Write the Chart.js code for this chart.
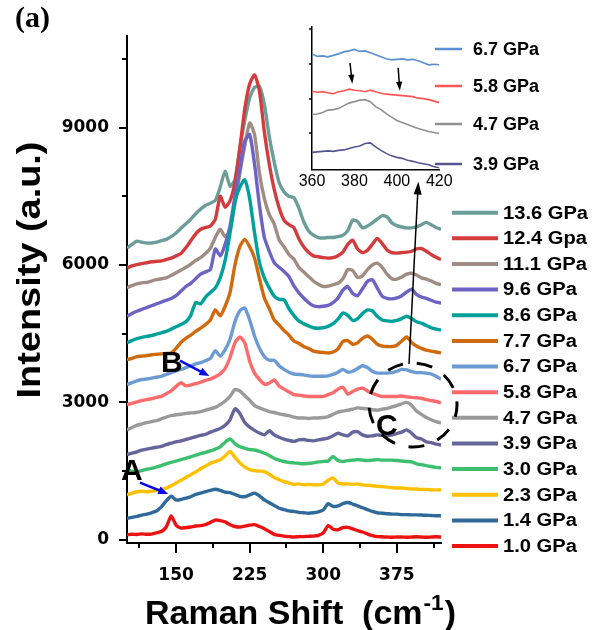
<!DOCTYPE html>
<html>
<head>
<meta charset="utf-8">
<script src="https://cdn.jsdelivr.net/npm/chart.js@4.4.1/dist/chart.umd.min.js"></script>
<style>
html,body{margin:0;padding:0;background:#fff;}
#wrap{position:relative;width:593px;height:630px;overflow:hidden;background:#fff;}
#main{position:absolute;left:0;top:0;}
#inset{position:absolute;left:280px;top:0;}
</style>
</head>
<body>
<div id="wrap">
<canvas id="main" width="593" height="630"></canvas>
<canvas id="inset" width="313" height="192"></canvas>
</div>
<script>
// ---------------- DATA ----------------
const ramanShift = [100,105,110,115,120,125,130,135,140,145,150,155,160,165,170,175,180,185,190,195,
  200,205,210,215,220,225,230,235,240,245,250,255,260,265,270,275,280,285,290,295,
  300,305,310,315,320,325,330,335,340,345,350,355,360,365,370,375,380,385,390,395,
  400,405,410,415,420];

const pressureLabels = ['1.0 GPa','1.4 GPa','2.3 GPa','3.0 GPa','3.9 GPa','4.7 GPa','5.8 GPa',
  '6.7 GPa','7.7 GPa','8.6 GPa','9.6 GPa','11.1 GPa','12.4 Gpa','13.6 GPa'];

const int_1_0 = [110,120,115,130,120, 125,150,180,280,520, 320,255,265,280,300, 310,330,380,430,420,
  390,330,290,280,300, 320,330,290,240,180, 120,95,80,70,60, 70,70,75,80,95,
  150,310,230,220,265, 270,240,200,170,130, 90,70,65,60,55, 60,60,55,60,65, 60,55,60,65,60];
const int_1_4 = [470,490,510,540,560, 590,630,720,850,950, 870,880,910,940,990, 1020,1050,1080,1105,1080,
  1040,1030,990,950,940, 980,1020,960,870,810, 750,690,660,630,620, 600,590,580,590,610,
  650,790,730,740,790, 815,780,740,700,660, 620,590,580,570,560, 560,550,550,545,545, 540,535,530,525,525];
const int_2_3 = [980,1020,1050,1060,1050, 1060,1080,1100,1130,1180, 1240,1300,1360,1420,1480, 1550,1610,1670,1710,1750,
  1830,1930,1800,1680,1590, 1530,1510,1500,1490,1430, 1360,1310,1270,1240,1210, 1220,1200,1210,1200,1200,
  1220,1300,1350,1240,1220, 1220,1210,1220,1200,1190, 1180,1170,1160,1150,1140, 1130,1130,1120,1110,1110, 1100,1100,1090,1090,1090];
const int_3_0 = [1530,1500,1490,1510,1540, 1560,1590,1620,1660,1690, 1720,1750,1780,1810,1850, 1880,1910,1940,1980,2030,
  2130,2200,2100,2030,2000, 1970,1960,1930,1890,1840, 1780,1740,1710,1690,1680, 1670,1660,1670,1680,1700,
  1710,1720,1820,1730,1710, 1730,1740,1750,1740,1730, 1740,1750,1740,1740,1740, 1730,1720,1710,1700,1660, 1640,1620,1600,1580,1570];
const int_3_9 = [1860,1890,1920,1960,1980, 2000,2020,2040,2080,2110, 2140,2160,2190,2220,2250, 2280,2300,2350,2390,2430,
  2500,2620,2860,2760,2560, 2460,2390,2330,2290,2380, 2290,2240,2200,2170,2150, 2180,2190,2170,2160,2180,
  2200,2220,2270,2330,2290, 2270,2350,2360,2290,2260, 2270,2290,2280,2270,2290, 2320,2350,2400,2330,2230, 2200,2140,2120,2090,2070];
const int_4_7 = [2400,2450,2500,2530,2560, 2580,2600,2640,2680,2710, 2730,2740,2760,2770,2780, 2800,2830,2860,2890,2950,
  3030,3130,3280,3250,3150, 3050,2930,2880,2840,2800, 2780,2750,2730,2710,2680, 2660,2660,2650,2660,2660,
  2670,2690,2740,2790,2810, 2830,2850,2880,2870,2860, 2840,2830,2850,2870,2900, 2930,2970,3000,2940,2810, 2740,2670,2620,2580,2550];
const int_5_8 = [2950,2980,3010,3040,3060, 3080,3110,3130,3190,3250, 3350,3430,3360,3380,3410, 3440,3480,3510,3560,3620,
  3740,3980,4300,4430,4300, 3900,3640,3500,3400,3420, 3490,3360,3290,3230,3170, 3160,3140,3130,3130,3130,
  3130,3170,3210,3290,3330, 3180,3240,3290,3310,3250, 3200,3160,3130,3130,3130, 3130,3140,3120,3110,3100, 3090,3060,3040,3020,2990];
const int_6_7 = [3390,3430,3470,3500,3510, 3530,3550,3570,3610,3650, 3690,3720,3760,3800,3840, 3870,3910,3960,4130,4010,
  4150,4380,4760,5000,5060, 4800,4450,4180,4000,3920, 3920,3800,3720,3660,3620, 3610,3600,3580,3570,3570,
  3570,3580,3610,3660,3720, 3660,3680,3740,3800,3760, 3680,3640,3640,3640,3650, 3680,3720,3710,3670,3650, 3650,3640,3620,3570,3510];
const int_7_7 = [3930,3960,4000,4010,4020, 4040,4050,4060,4070,4080, 4180,4310,4400,4470,4550, 4620,4700,4800,5020,4890,
  5100,5400,6000,6400,6560, 6400,6150,5700,5280,5050, 4800,4690,4570,4470,4340, 4290,4220,4180,4120,4100,
  4090,4080,4100,4170,4330, 4350,4270,4300,4400,4450, 4380,4270,4230,4220,4220, 4250,4340,4430,4310,4230, 4180,4140,4120,4100,4080];
const int_8_6 = [4300,4350,4390,4420,4440, 4460,4490,4520,4550,4600, 4650,4700,4760,4900,5180, 5150,5300,5400,5500,5720,
  6100,6700,7380,7700,7860, 7450,6700,6050,5720,5500, 5320,5250,5240,5050,4900, 4780,4720,4670,4630,4620,
  4630,4660,4720,4820,4950, 4900,4790,4830,4940,5020, 5000,4880,4800,4780,4770, 4790,4830,4880,4830,4760, 4730,4680,4630,4600,4580];
const int_9_6 = [4880,4940,4990,5030,5070, 5110,5150,5190,5230,5270, 5330,5430,5530,5600,5700, 5800,5850,5900,6350,6200,
  6450,6850,7500,8100,8700, 8850,8200,7300,6600,6300, 6050,5950,5860,5750,5550, 5400,5280,5180,5110,5090,
  5100,5120,5180,5280,5450, 5530,5380,5330,5480,5640, 5680,5500,5320,5270,5260, 5280,5330,5410,5470,5360, 5300,5270,5230,5190,5170];
const int_11_1 = [5500,5550,5590,5610,5620, 5650,5680,5700,5720,5770, 5830,5890,5950,6020,6100, 6160,6250,6370,6600,6780,
  6620,6750,7350,8000,8600, 9100,8850,8000,7450,7100, 6900,6550,6400,6230,6130, 5950,5850,5750,5650,5580,
  5530,5540,5570,5600,5700, 5900,5880,5730,5760,5900, 6000,6040,5950,5800,5700, 5690,5740,5800,5820,5780, 5720,5690,5650,5600,5570];
const int_12_4 = [5930,5980,6010,6030,6050, 6070,6080,6090,6120,6150, 6200,6250,6380,6530,6680, 6780,6820,6850,7000,7500,
  7260,7400,7800,8550,9400, 9950,10150,9800,8900,8200, 7650,7250,6980,6880,6820, 6580,6400,6280,6200,6180,
  6160,6150,6160,6200,6280, 6450,6540,6350,6270,6320, 6450,6580,6470,6330,6270, 6260,6270,6280,6300,6350, 6360,6300,6230,6170,6120];
const int_13_6 = [6370,6450,6520,6500,6480, 6480,6500,6530,6560,6620, 6700,6800,6900,7000,7120, 7220,7300,7350,7410,7700,
  8050,7720,7860,8550,9150, 9650,9880,9900,9500,8800, 8250,7800,7600,7500,7470, 7250,6950,6750,6650,6600,
  6590,6600,6600,6620,6650, 6750,6980,6950,6810,6850, 6920,7000,7080,7050,6920, 6860,6830,6810,6810,6830, 6880,6930,6880,6820,6780];

const xTickValues = [112.5,150,187.5,225,262.5,300,337.5,375,412.5];
const xLabelValues = [150,225,300,375];
const yTickValues = [0,1500,3000,4500,6000,7500,9000,10500];
const yLabelValues = [0,3000,6000,9000];

// inset data
const insetShift = [360,362.5,365,367.5,370,372.5,375,377.5,380,382.5,385,387.5,390,392.5,395,397.5,400,402.5,405,407.5,410,412.5,415,417.5,420];
const insetLabels = ['6.7 GPa','5.8 GPa','4.7 GPa','3.9 GPa'];
const inset_6_7 = [1150,1125,1130,1120,1135,1150,1170,1180,1195,1175,1180,1160,1140,1120,1100,1090,1095,1100,1090,1095,1080,1060,1040,1045,1040];
const inset_5_8 = [775,765,770,760,750,770,780,795,785,780,770,785,770,755,745,740,735,730,725,720,705,700,690,675,660];
const inset_4_7 = [540,545,560,585,590,600,630,655,670,685,690,670,620,590,550,515,480,460,440,420,400,385,370,360,350];
const inset_3_9 = [160,165,170,175,170,180,185,200,215,225,250,255,215,180,150,125,110,100,80,70,55,45,35,15,5];
const insetXTicks = [360,380,400,420];
const insetYTicks = [350,700,1050,1400];

// ---------------- STYLE ----------------
const lineColors = ['#ee1111','#2f6a9a','#ffc000','#3cbf6e','#65659b','#9a9a9a','#ff6b6b',
  '#6b9bd2','#d06a0c','#00a19b','#6c63c3','#a08c82','#d23c3c','#6b9e9b'];
const insetColors = ['#5b8fd1','#ff5555','#909090','#55558f'];
const seriesValues = [int_1_0,int_1_4,int_2_3,int_3_0,int_3_9,int_4_7,int_5_8,int_6_7,int_7_7,int_8_6,int_9_6,int_11_1,int_12_4,int_13_6];
const insetValues = [inset_6_7,inset_5_8,inset_4_7,inset_3_9];

const SANS = '"Liberation Sans", Arial, sans-serif';
const SANS_TICK = '"DejaVu Sans", sans-serif';

function stretchText(ctx, text, x, y, sx, align) {
  ctx.save();
  ctx.translate(x, y);
  ctx.scale(sx, 1);
  ctx.textAlign = align || 'left';
  ctx.fillText(text, 0, 0);
  ctx.restore();
}
function arrow(ctx, x1, y1, x2, y2, color, lw, hl, hw) {
  const ang = Math.atan2(y2 - y1, x2 - x1);
  ctx.save();
  ctx.strokeStyle = color; ctx.fillStyle = color; ctx.lineWidth = lw;
  ctx.beginPath();
  ctx.moveTo(x1, y1);
  ctx.lineTo(x2 - Math.cos(ang) * hl * 0.8, y2 - Math.sin(ang) * hl * 0.8);
  ctx.stroke();
  ctx.beginPath();
  ctx.moveTo(x2, y2);
  ctx.lineTo(x2 - hl * Math.cos(ang) + hw / 2 * Math.sin(ang), y2 - hl * Math.sin(ang) - hw / 2 * Math.cos(ang));
  ctx.lineTo(x2 - hl * Math.cos(ang) - hw / 2 * Math.sin(ang), y2 - hl * Math.sin(ang) + hw / 2 * Math.cos(ang));
  ctx.closePath();
  ctx.fill();
  ctx.restore();
}

const decorMain = {
  id: 'decorMain',
  afterDraw(chart) {
    const {ctx, chartArea: a, scales: {x, y}} = chart;
    ctx.save();
    // tick marks (major longer than minor)
    ctx.strokeStyle = '#000'; ctx.lineWidth = 2;
    yTickValues.forEach(v => {
      const py = Math.round(y.getPixelForValue(v));
      const len = yLabelValues.includes(v) ? 8 : 5;
      ctx.beginPath(); ctx.moveTo(a.left, py); ctx.lineTo(a.left - len, py); ctx.stroke();
    });
    xTickValues.forEach(v => {
      const px = Math.round(x.getPixelForValue(v));
      const len = xLabelValues.includes(v) ? 10 : 5;
      ctx.beginPath(); ctx.moveTo(px, a.bottom); ctx.lineTo(px, a.bottom + len); ctx.stroke();
    });

    // legend (top: highest pressure)
    const ds = chart.data.datasets;
    ctx.font = 'bold 17.5px ' + SANS;
    ctx.fillStyle = '#000';
    ctx.textBaseline = 'middle';
    for (let k = 0; k < ds.length; k++) {
      const d = ds[ds.length - 1 - k];
      const cy = 212.7 + k * 25.64;
      ctx.strokeStyle = d.borderColor; ctx.lineWidth = 4;
      ctx.beginPath(); ctx.moveTo(452, cy); ctx.lineTo(498, cy); ctx.stroke();
      stretchText(ctx, d.label, 503, cy + 1, 1.15, 'left');
    }

    // axis titles
    ctx.textBaseline = 'alphabetic';
    ctx.fillStyle = '#000';
    ctx.font = 'bold 33px ' + SANS;
    const yt = 'Intensity (a.u.)';
    const yw = ctx.measureText(yt).width;
    ctx.save();
    ctx.translate(40, 270);
    ctx.rotate(-Math.PI / 2);
    ctx.scale(257 / yw, 1);
    ctx.textAlign = 'center';
    ctx.fillText(yt, 0, 0);
    ctx.restore();
    const p1 = 'Raman Shift  (cm', p2 = '-1', p3 = ')';
    ctx.font = 'bold 33px ' + SANS;
    const w1 = ctx.measureText(p1).width, w3 = ctx.measureText(p3).width;
    ctx.font = 'bold 22px ' + SANS;
    const w2 = ctx.measureText(p2).width;
    const sx = 311 / (w1 + w2 + w3 + 2);
    ctx.save();
    ctx.translate(145, 624);
    ctx.scale(sx, 1);
    ctx.textAlign = 'left';
    ctx.font = 'bold 33px ' + SANS;
    ctx.fillText(p1, 0, 0);
    ctx.font = 'bold 22px ' + SANS;
    ctx.fillText(p2, w1 + 1, -14);
    ctx.font = 'bold 33px ' + SANS;
    ctx.fillText(p3, w1 + w2 + 2, 0);
    ctx.restore();

    // panel label
    ctx.font = 'bold 30px "Liberation Serif", "Times New Roman", serif';
    ctx.textAlign = 'left';
    ctx.fillText('(a)', 15, 27);

    // annotations (placed in data units)
    const X = v => x.getPixelForValue(v), Y = v => y.getPixelForValue(v);
    ctx.font = 'bold 30px ' + SANS;
    ctx.textAlign = 'center';
    ctx.fillText('A', X(104.8), Y(1305));
    ctx.fillText('B', X(145.6), Y(3670));
    ctx.fillText('C', X(364.7), Y(2288));
    arrow(ctx, X(113.2), Y(1247), X(142.0), Y(1000), '#0a0ae6', 2.5, 10, 8);
    arrow(ctx, X(154.0), Y(3910), X(183.9), Y(3576), '#0a0ae6', 2.5, 10, 8);

    // dashed ellipse around region C
    ctx.save();
    ctx.strokeStyle = '#000'; ctx.lineWidth = 3;
    ctx.setLineDash([16, 14]);
    ctx.lineDashOffset = 4;
    ctx.beginPath();
    const cx = X(391.5), cy = Y(2943);
    const rx = X(391.5 + 44.8) - cx, ry = cy - Y(2943 + 917);
    ctx.ellipse(cx, cy, rx, ry, 0, 0, Math.PI * 2);
    ctx.stroke();
    ctx.restore();

    // long arrow to inset
    arrow(ctx, X(387.4), Y(3838), X(396.9), Y(7823), '#000', 1.5, 13, 8);
    ctx.restore();
  }
};

const mainChart = new Chart(document.getElementById('main'), {
  type: 'line',
  data: {
    datasets: seriesValues.map((vals, i) => ({
      label: pressureLabels[i],
      data: ramanShift.map((xv, j) => ({x: xv, y: vals[j]})),
      borderColor: lineColors[i],
      backgroundColor: lineColors[i],
      borderWidth: 3.4,
      pointRadius: 0,
      tension: 0.2,
      fill: false
    }))
  },
  options: {
    responsive: false,
    animation: false,
    devicePixelRatio: 1,
    layout: {padding: {left: 0, top: 36, right: 152, bottom: 0}},
    plugins: {legend: {display: false}, tooltip: {enabled: false}},
    scales: {
      x: {
        type: 'linear', min: 100, max: 420,
        afterBuildTicks: s => { s.ticks = xTickValues.map(v => ({value: v})); },
        afterFit: s => { s.height = 87; },
        grid: {display: false, drawTicks: false},
        border: {display: true, color: '#000', width: 2},
        ticks: {
          padding: 22, autoSkip: false, maxRotation: 0, color: '#000',
          font: {family: SANS_TICK, weight: 'bold', size: 17},
          callback: v => xLabelValues.includes(v) ? String(v) : ''
        }
      },
      y: {
        type: 'linear', min: -70, max: 11000,
        afterBuildTicks: s => { s.ticks = yTickValues.map(v => ({value: v})); },
        afterFit: s => { s.width = 127; },
        grid: {display: false, drawTicks: false},
        border: {display: true, color: '#000', width: 2},
        ticks: {
          padding: 18, autoSkip: false, color: '#000',
          font: {family: SANS_TICK, weight: 'bold', size: 17},
          callback: v => yLabelValues.includes(v) ? String(v) : ''
        }
      }
    }
  },
  plugins: [decorMain]
});

const decorInset = {
  id: 'decorInset',
  afterDraw(chart) {
    const {ctx, chartArea: a, scales: {x, y}} = chart;
    ctx.save();
    ctx.strokeStyle = '#000'; ctx.lineWidth = 1.5;
    insetYTicks.forEach(v => {
      const py = Math.round(y.getPixelForValue(v));
      ctx.beginPath(); ctx.moveTo(a.left, py); ctx.lineTo(a.left - 3, py); ctx.stroke();
    });
    const ys = [49, 86, 124, 164];
    ctx.font = 'bold 18px ' + SANS;
    ctx.fillStyle = '#000';
    ctx.textBaseline = 'middle';
    chart.data.datasets.forEach((d, k) => {
      ctx.strokeStyle = d.borderColor; ctx.lineWidth = 2.5;
      ctx.beginPath(); ctx.moveTo(155, ys[k]); ctx.lineTo(182, ys[k]); ctx.stroke();
      ctx.fillText(d.label, 193, ys[k] + 1);
    });
    const X = v => x.getPixelForValue(v), Y = v => y.getPixelForValue(v);
    arrow(ctx, X(377.9), Y(1060), X(379.0), Y(850), '#000', 1.5, 9, 6);
    arrow(ctx, X(400.6), Y(1010), X(401.4), Y(780), '#000', 1.5, 9, 6);
    ctx.restore();
  }
};

const insetChart = new Chart(document.getElementById('inset'), {
  type: 'line',
  data: {
    datasets: insetValues.map((vals, i) => ({
      label: insetLabels[i],
      data: insetShift.map((xv, j) => ({x: xv, y: vals[j]})),
      borderColor: insetColors[i],
      borderWidth: 1.6,
      pointRadius: 0,
      tension: 0,
      fill: false
    }))
  },
  options: {
    responsive: false,
    animation: false,
    devicePixelRatio: 1,
    layout: {padding: {left: 12, top: 27, right: 153.7, bottom: 0}},
    plugins: {legend: {display: false}, tooltip: {enabled: false}},
    scales: {
      x: {
        type: 'linear', min: 360, max: 420,
        afterBuildTicks: s => { s.ticks = insetXTicks.map(v => ({value: v})); },
        afterFit: s => { s.height = 22.7; },
        grid: {display: false, drawTicks: false},
        border: {display: true, color: '#000', width: 1.5},
        ticks: {padding: 3, autoSkip: false, maxRotation: 0, color: '#000',
          font: {family: SANS, size: 16}}
      },
      y: {
        type: 'linear', min: -10, max: 1420,
        afterFit: s => { s.width = 20; },
        grid: {display: false, drawTicks: false},
        border: {display: true, color: '#000', width: 1.5},
        ticks: {display: false}
      }
    }
  },
  plugins: [decorInset]
});
</script>
</body>
</html>
